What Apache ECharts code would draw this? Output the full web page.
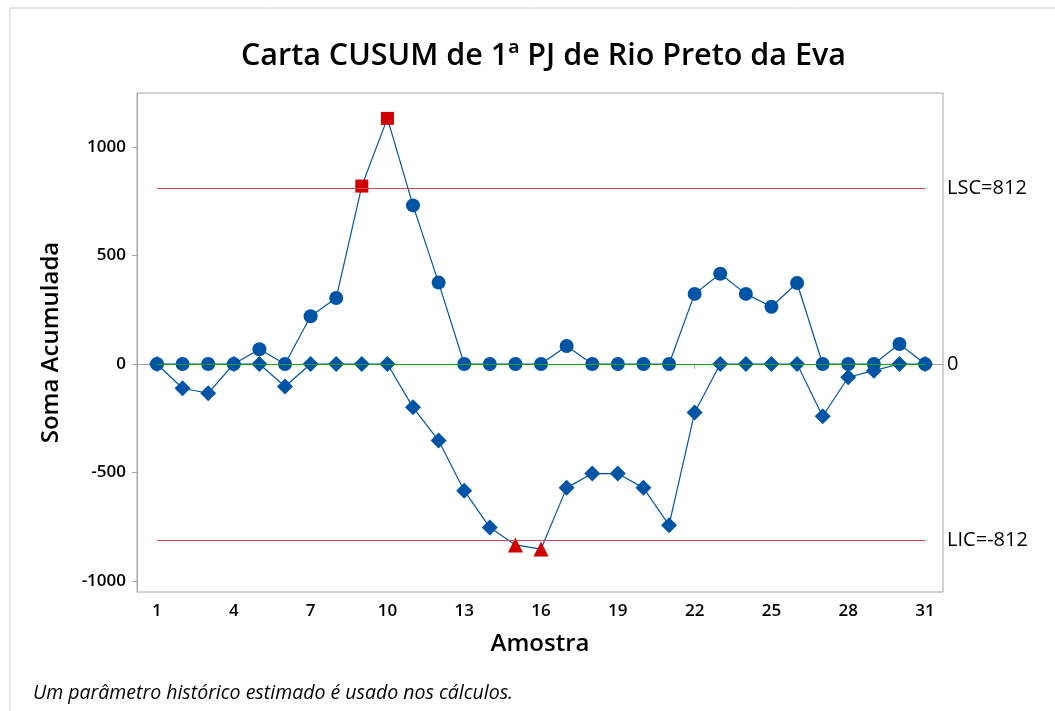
<!DOCTYPE html>
<html>
<head>
<meta charset="utf-8">
<script src="https://cdn.jsdelivr.net/npm/echarts@6/dist/echarts.min.js"></script>
<style>
  html, body { margin: 0; padding: 0; background: #fff; }
  #main { width: 1055px; height: 711px; }
</style>
</head>
<body>
<div id="main"></div>
<script>
var amostras = [];
for (var i = 1; i <= 31; i++) amostras.push(i);
var somaSuperior = [0, 0, 0, 0, 68, 0, 220, 304, 820, 1132, 731, 375, 0, 0, 0, 0, 83, 0, 0, 0, 0, 323, 416, 323, 264, 373, 0, 0, 0, 92, 0];
var somaInferior = [0, -112, -135, 0, 0, -104, 0, 0, 0, 0, -200, -353, -584, -754, -834, -853, -571, -505, -505, -571, -743, -224, 0, 0, 0, 0, -241, -61, -31, 0, 0];
var xTicks = [1, 4, 7, 10, 13, 16, 19, 22, 25, 28, 31];
var yTicks = [-1000, -500, 0, 500, 1000];
var LSC = 812;
var LIC = -812;
var centro = 0;

var azul = '#0054A6';
var vermelho = '#D10000';
var fonte = '"Open Sans", "Noto Sans", sans-serif';

function pontos(valores, simboloFora, fora) {
    var out = [];
    for (var i = 0; i < valores.length; i++) {
        var item = { value: [amostras[i], valores[i]] };
        if (fora(valores[i])) {
            item.symbol = simboloFora;
            item.symbolSize = simboloFora == 'rect' ? 13 : 15;
            item.itemStyle = { color: vermelho };
        }
        out.push(item);
    }
    return out;
}

function linhaRef(valor, texto) {
    return [
        { coord: [amostras[0], valor], label: { formatter: texto } },
        { coord: [amostras[amostras.length - 1], valor] }
    ];
}

var rotuloRef = { show: true, position: 'end', distance: 22, fontSize: 20, color: '#000', fontFamily: fonte };

var myChart = echarts.init(document.getElementById('main'));
var option = {
    backgroundColor: '#fff',
    animation: false,
    textStyle: { fontFamily: fonte },
    title: [{
        text: 'Carta CUSUM de 1ª PJ de Rio Preto da Eva',
        left: 236,
        top: 36,
        textStyle: { fontSize: 30.5, fontWeight: 600, color: '#000', fontFamily: fonte }
    }, {
        text: 'Um parâmetro histórico estimado é usado nos cálculos.',
        left: 28,
        top: 678,
        textStyle: { fontSize: 19.5, fontWeight: 'normal', fontStyle: 'italic', color: '#000', fontFamily: fonte }
    }],
    graphic: [{
        type: 'polyline',
        shape: { points: [[10, 711], [10, 8], [1055, 8]] },
        style: { stroke: '#d0d0d0', lineWidth: 1, fill: null },
        silent: true
    }],
    grid: {
        left: 137, right: 112, top: 93, bottom: 119,
        show: true, borderColor: '#a6a6a6', borderWidth: 1
    },
    xAxis: {
        type: 'value',
        min: 0.22, max: 31.7,
        name: 'Amostra',
        nameLocation: 'middle',
        nameGap: 40,
        nameTextStyle: { fontSize: 24, fontWeight: 600, color: '#000' },
        splitLine: { show: false },
        axisLine: { show: true, lineStyle: { color: '#a6a6a6' } },
        axisTick: { show: true, length: 5, lineStyle: { color: '#a6a6a6' }, customValues: xTicks },
        axisLabel: { fontSize: 17, color: '#000', fontWeight: 600, margin: 11, customValues: xTicks }
    },
    yAxis: {
        type: 'value',
        min: -1051, max: 1249,
        name: 'Soma Acumulada',
        nameLocation: 'middle',
        nameGap: 74,
        nameTextStyle: { fontSize: 24, fontWeight: 600, color: '#000' },
        splitLine: { show: false },
        axisLine: { show: true, lineStyle: { color: '#a6a6a6' } },
        axisTick: { show: true, length: 5, lineStyle: { color: '#a6a6a6' }, customValues: yTicks },
        axisLabel: {
            fontSize: 17, color: '#000', fontWeight: 600, margin: 11, customValues: yTicks,
            formatter: function (v) { return String(v); }
        }
    },
    series: [{
        name: 'limites',
        type: 'line',
        data: [],
        silent: true,
        markLine: {
            symbol: 'none',
            silent: true,
            label: rotuloRef,
            data: [
                linhaRef(LSC, 'LSC=' + LSC),
                linhaRef(LIC, 'LIC=' + LIC)
            ],
            lineStyle: { color: '#C0504D', width: 1.2, type: 'solid' }
        }
    }, {
        name: 'centro',
        type: 'line',
        data: [],
        silent: true,
        markLine: {
            symbol: 'none',
            silent: true,
            label: rotuloRef,
            data: [linhaRef(centro, String(centro))],
            lineStyle: { color: '#1A9E1A', width: 1.2, type: 'solid' }
        }
    }, {
        name: 'Superior',
        type: 'line',
        data: pontos(somaSuperior, 'rect', function (v) { return v > LSC; }),
        symbol: 'circle',
        symbolSize: 14,
        itemStyle: { color: azul },
        lineStyle: { color: azul, width: 1.2 },
        z: 3
    }, {
        name: 'Inferior',
        type: 'line',
        data: pontos(somaInferior, 'triangle', function (v) { return v < LIC; }),
        symbol: 'diamond',
        symbolSize: 16,
        itemStyle: { color: azul },
        lineStyle: { color: azul, width: 1.2 },
        z: 4
    }]
};
myChart.setOption(option);
</script>
</body>
</html>
